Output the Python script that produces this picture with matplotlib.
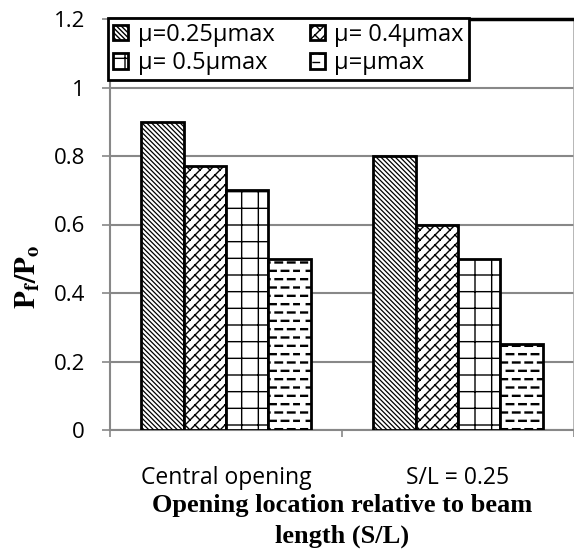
import warnings
warnings.filterwarnings("ignore")
import numpy as np
import matplotlib
matplotlib.use("Agg")
import matplotlib.pyplot as plt
import matplotlib.hatch as mhatch
from matplotlib.path import Path
from matplotlib.patches import Patch

# ---------------- data ----------------
categories = ["Central opening", "S/L = 0.25"]
series_labels = ["μ=0.25μmax", "μ= 0.4μmax", "μ= 0.5μmax", "μ=μmax"]
mu_025 = [0.90, 0.80]
mu_040 = [0.77, 0.60]
mu_050 = [0.70, 0.50]
mu_100 = [0.50, 0.25]
y_ticks = [0, 0.2, 0.4, 0.6, 0.8, 1.0, 1.2]
y_tick_labels = ["0", "0.2", "0.4", "0.6", "0.8", "1", "1.2"]
x_label = "Opening location relative to beam\nlength (S/L)"
y_label = r"$\mathbf{P_f/P_o}$"


# ---------------- custom hatches ----------------
class DashHatch(mhatch.HatchPatternBase):
    ROWS = 12
    DASHES = 8
    LEN = 0.065

    def __init__(self, hatch, density):
        self.on = "d" in hatch
        self.num_vertices = self.ROWS * self.DASHES * 2 if self.on else 0

    def set_vertices_and_codes(self, vertices, codes):
        k = 0
        for i in range(self.ROWS):
            y = (i + 0.5) / self.ROWS
            off = 0.5 / self.DASHES if i % 2 else 0.0
            for j in range(self.DASHES):
                x0 = j / self.DASHES + off + 0.005
                vertices[k] = (x0, y)
                vertices[k + 1] = (x0 + self.LEN, y)
                codes[k] = Path.MOVETO
                codes[k + 1] = Path.LINETO
                k += 2


class BrickHatch(mhatch.HatchPatternBase):
    N = 10
    M = 10

    def __init__(self, hatch, density):
        self.on = "b" in hatch
        self.segs = []
        if self.on:
            N, M = self.N, self.M
            for k in range(-N, N + 1):
                c = k / N
                self.segs.append(((0.0, c), (1.0, 1.0 + c)))
            for k in range(-N - 1, N + 1):
                c = k / N
                shift = -k / (2 * N) + (k % 2) / (2 * M)
                for j in range(-3 * M, 4 * M):
                    t = j / M + shift
                    p0 = (t, t + c)
                    p1 = (t - 1 / (2 * N), t + c + 1 / (2 * N))
                    mx, my = (p0[0] + p1[0]) / 2, (p0[1] + p1[1]) / 2
                    if -0.1 <= mx <= 1.1 and -0.1 <= my <= 1.1:
                        self.segs.append((p0, p1))
        self.num_vertices = 2 * len(self.segs)

    def set_vertices_and_codes(self, vertices, codes):
        for i, (a, b) in enumerate(self.segs):
            vertices[2 * i] = a
            vertices[2 * i + 1] = b
            codes[2 * i] = Path.MOVETO
            codes[2 * i + 1] = Path.LINETO


mhatch._hatch_types.append(DashHatch)
mhatch._hatch_types.append(BrickHatch)

hatches = ["\\\\\\\\\\\\\\", "b", "+", "d"]
hatch_lws = [0.9, 1.0, 1.0, 1.7]

# ---------------- figure ----------------
W, H = 574, 557
fig = plt.figure(figsize=(W / 100, H / 100), dpi=100)
plt.rcParams["hatch.linewidth"] = 1.0
tick_font = "Open Sans"

ax_left, ax_right = 110 / W, 574 / W
ax_bottom, ax_top = 1 - 430 / H, 1 - 19 / H
ax = fig.add_axes([ax_left, ax_bottom, ax_right - ax_left, ax_top - ax_bottom])

grey = "#888888"
series = [mu_025, mu_040, mu_050, mu_100]
n = len(series)
w = 0.183
x = np.arange(len(categories))
for j, (vals, hatch, hlw) in enumerate(zip(series, hatches, hatch_lws)):
    plt.rcParams["hatch.linewidth"] = hlw
    bars = ax.bar(x + (j - (n - 1) / 2) * w, vals, width=w, facecolor="white",
                  edgecolor="black", linewidth=2.0, hatch=hatch, zorder=3)
    for b in bars:
        if hasattr(b, "set_hatch_linewidth"):
            b.set_hatch_linewidth(hlw)
plt.rcParams["hatch.linewidth"] = 1.0

ax.set_xlim(-0.5, 1.5)
ax.set_ylim(0, 1.2)
ax.set_yticks(y_ticks)
ax.set_yticklabels(y_tick_labels, fontfamily=tick_font, fontsize=16)
ax.set_xticks(x)
ax.set_xticklabels(categories, fontfamily=tick_font, fontsize=16.5)
ax.set_xticks([-0.5, 0.5, 1.5], minor=True)
ax.tick_params(axis="x", which="major", length=0, pad=26)
ax.tick_params(axis="x", which="minor", length=5, width=1.2, color=grey, direction="out")
ax.tick_params(axis="y", length=6, width=1.2, color=grey, direction="out", pad=12)

ax.yaxis.grid(True, color=grey, linewidth=1.5, zorder=0)
ax.set_axisbelow(True)
for s in ["left", "bottom"]:
    ax.spines[s].set_color(grey)
    ax.spines[s].set_linewidth(1.5)
ax.spines["right"].set_color("#aaaaaa")
ax.spines["right"].set_linewidth(1.2)
ax.spines["top"].set_color("black")
ax.spines["top"].set_linewidth(2.5)

# legend (row-wise order)
handles = []
for h, hlw in zip(hatches, hatch_lws):
    plt.rcParams["hatch.linewidth"] = hlw
    p = Patch(facecolor="white", edgecolor="black", linewidth=2.0, hatch=h)
    if hasattr(p, "set_hatch_linewidth"):
        p.set_hatch_linewidth(hlw)
    handles.append(p)
plt.rcParams["hatch.linewidth"] = 1.0
order = [0, 2, 1, 3]
leg = fig.legend([handles[i] for i in order], [series_labels[i] for i in order],
                 ncol=2, loc="upper left", bbox_to_anchor=(108 / W, 1 - 18 / H),
                 prop={"family": tick_font, "size": 17}, frameon=True, fancybox=False,
                 edgecolor="black", framealpha=1, borderpad=0.2, handlelength=0.65,
                 handleheight=0.65, handletextpad=0.4, columnspacing=1.5,
                 labelspacing=0.2, borderaxespad=0)
leg.get_frame().set_linewidth(2.0)

fig.text(342 / W, 1 - 521 / H, x_label, ha="center", va="center",
         fontfamily="Liberation Serif", fontweight="bold", fontsize=19, linespacing=1.45)
plt.rcParams["mathtext.fontset"] = "stix"
fig.text(28 / W, 1 - 277 / H, y_label, rotation=90, ha="center", va="center", fontsize=21)

fig.savefig("out.png", dpi=100)
